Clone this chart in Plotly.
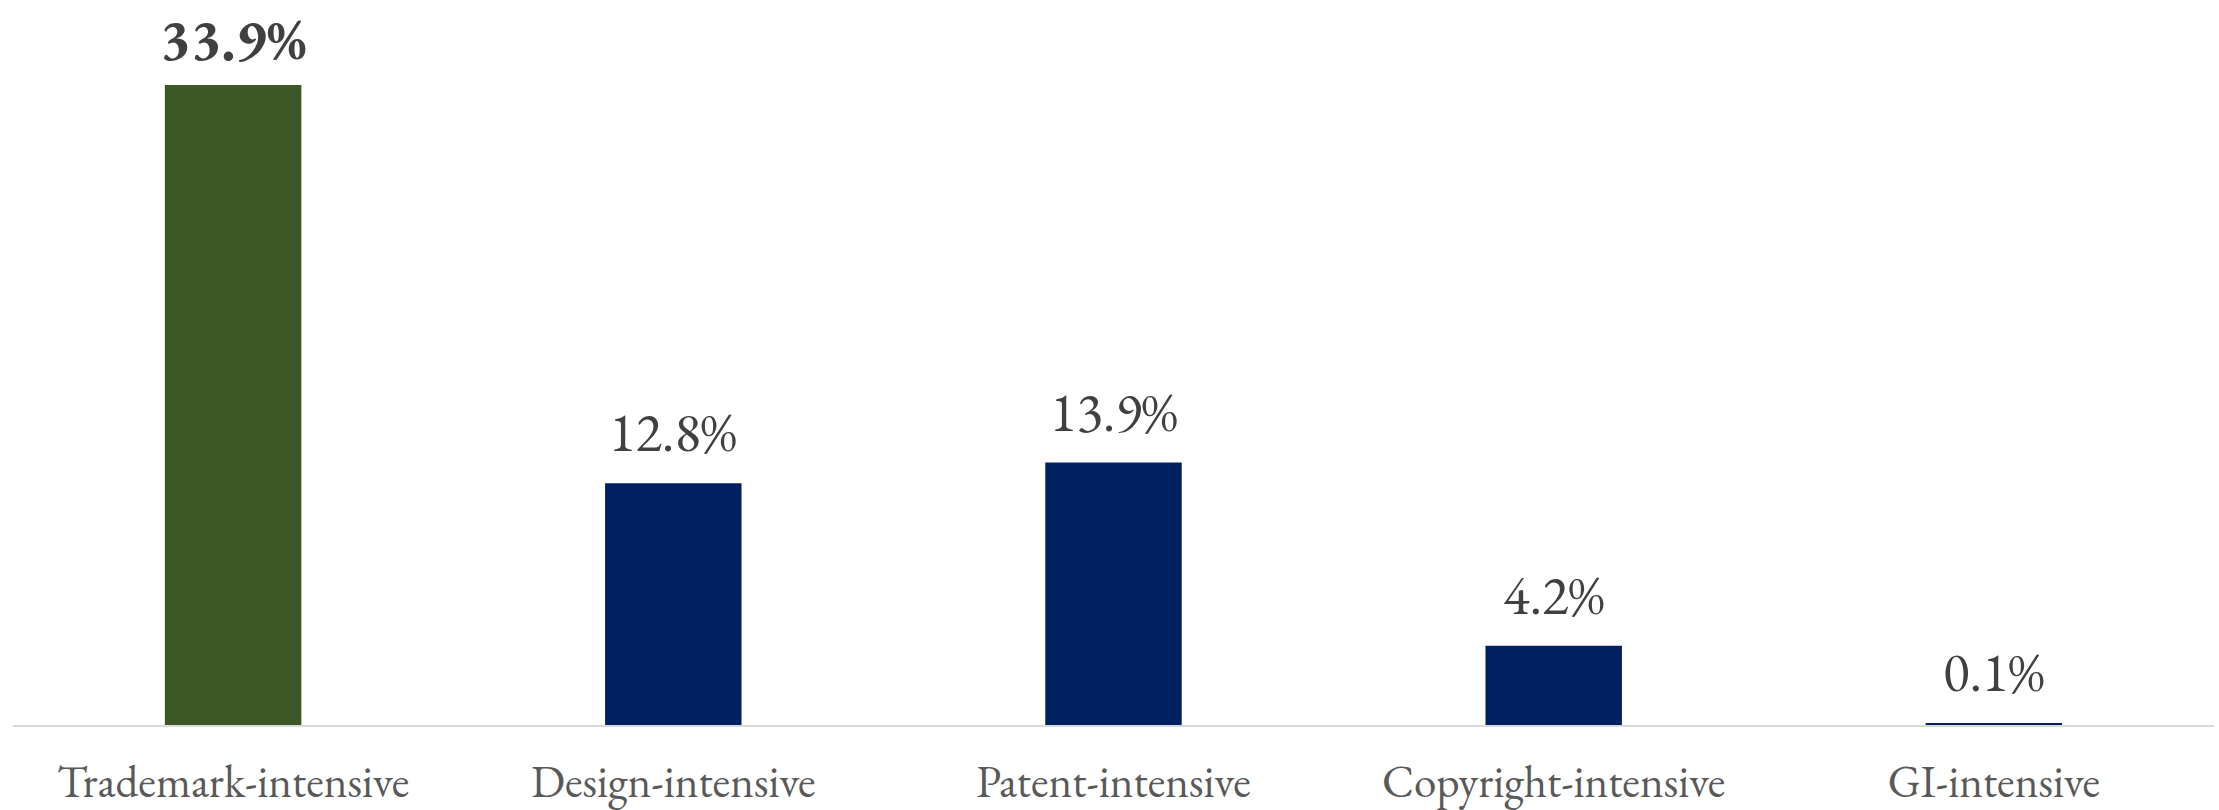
import plotly.graph_objects as go

categories = ["Trademark-intensive", "Design-intensive", "Patent-intensive", "Copyright-intensive", "GI-intensive"]
values = [33.9, 12.8, 13.9, 4.2, 0.1]
labels = ["33.9%", "12.8%", "13.9%", "4.2%", "0.1%"]
colors = ["#3A5724", "#002060", "#002060", "#002060", "#002060"]

FONT = "Garamond, 'EB Garamond', 'Liberation Serif', serif"

fig = go.Figure(go.Bar(x=categories, y=values, marker=dict(color=colors, line=dict(width=0)),
                       hoverinfo="skip"))

for i, (c, v, t) in enumerate(zip(categories, values, labels)):
    fig.add_annotation(x=c, y=v, text=f"<b>{t}</b>" if i == 0 else t, showarrow=False,
                       yanchor="bottom", yshift=14 if i else 7,
                       font=dict(family=FONT, size=58 if i == 0 else 55, color="#404040"))

fig.update_layout(
    width=2219, height=810,
    margin=dict(l=13, r=5, t=0, b=85),
    paper_bgcolor="white", plot_bgcolor="white",
    bargap=0.69, showlegend=False,
    xaxis=dict(showline=True, linecolor="#D9D9D9", linewidth=2, showgrid=False, automargin=False,
               ticks="outside", ticklen=16, tickcolor="rgba(0,0,0,0)",
               tickfont=dict(family=FONT, size=45, color="#595959")),
    yaxis=dict(range=[0, 38.4], visible=False, showgrid=False, zeroline=False, automargin=False),
)

fig.write_html("out.html", config={"displayModeBar": False},
               post_script="document.body.style.margin='0';")
